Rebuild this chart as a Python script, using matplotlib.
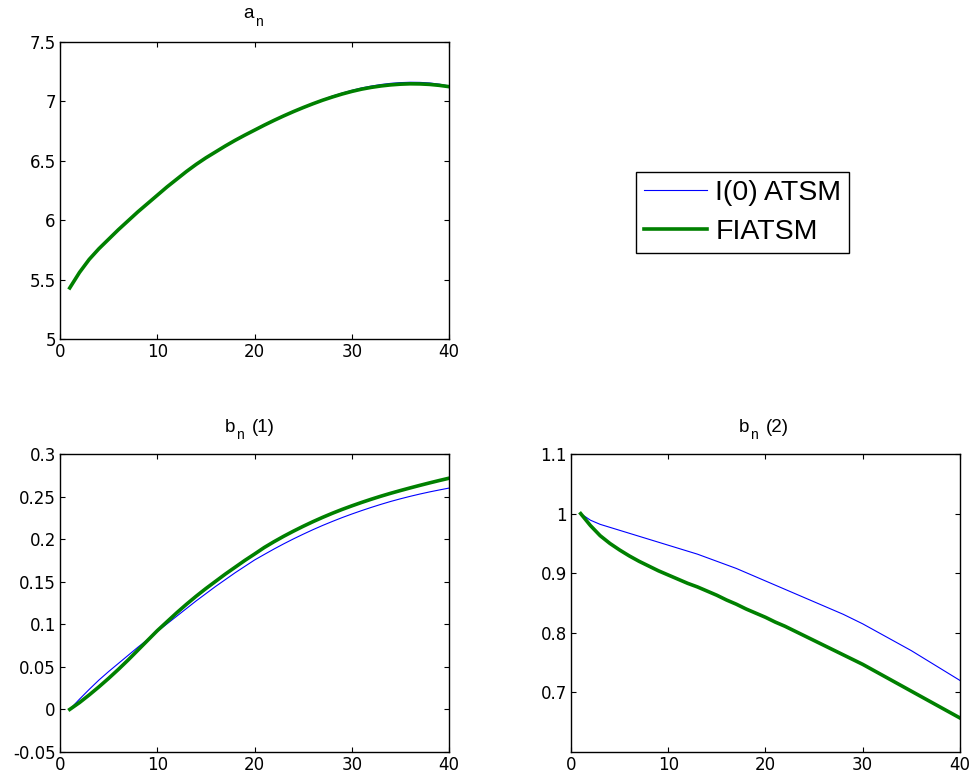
import matplotlib
matplotlib.use("Agg")
import matplotlib.pyplot as plt
from matplotlib.ticker import FuncFormatter

plt.rcParams['font.family'] = ['Liberation Sans', 'DejaVu Sans']

# maturity n
n = list(range(1, 41))

# a_n
a_i0 = [5.43, 5.56, 5.67, 5.76, 5.84, 5.92, 5.995, 6.07, 6.14, 6.21,
        6.28, 6.345, 6.41, 6.47, 6.525, 6.575, 6.625, 6.672, 6.716, 6.758,
        6.80, 6.84, 6.878, 6.914, 6.948, 6.982, 7.015, 7.045, 7.07, 7.093,
        7.113, 7.129, 7.142, 7.152, 7.158, 7.161, 7.16, 7.155, 7.145, 7.13]
a_fi = [5.43, 5.56, 5.67, 5.76, 5.84, 5.92, 5.995, 6.07, 6.14, 6.21,
        6.28, 6.345, 6.41, 6.47, 6.525, 6.575, 6.625, 6.672, 6.716, 6.758,
        6.80, 6.84, 6.878, 6.914, 6.948, 6.98, 7.01, 7.037, 7.062, 7.084,
        7.103, 7.118, 7.13, 7.139, 7.145, 7.148, 7.147, 7.143, 7.135, 7.124]

# b_n (1)
b1_i0 = [0.0, 0.012, 0.0235, 0.0345, 0.0445, 0.054, 0.0635, 0.073, 0.082, 0.0915,
         0.1005, 0.1095, 0.1185, 0.1275, 0.136, 0.1445, 0.1525, 0.1605, 0.168, 0.1755,
         0.182, 0.1884, 0.1945, 0.2003, 0.2058, 0.2111, 0.2161, 0.2208, 0.2253, 0.2295,
         0.2335, 0.2373, 0.2409, 0.2443, 0.2474, 0.2503, 0.253, 0.2555, 0.2578, 0.26]
b1_fi = [0.0, 0.008, 0.017, 0.0265, 0.0365, 0.047, 0.058, 0.0695, 0.081, 0.0925,
         0.103, 0.1135, 0.1235, 0.133, 0.142, 0.1505, 0.159, 0.167, 0.175, 0.1825,
         0.1902, 0.197, 0.2034, 0.2094, 0.2151, 0.2205, 0.2256, 0.2304, 0.2349, 0.2391,
         0.2431, 0.2469, 0.2505, 0.2539, 0.2571, 0.2602, 0.2632, 0.2661, 0.2689, 0.2716]

# b_n (2)
b2_i0 = [1.0, 0.989, 0.982, 0.977, 0.972, 0.967, 0.962, 0.957, 0.952, 0.947,
         0.942, 0.937, 0.932, 0.926, 0.92, 0.914, 0.908, 0.901, 0.894, 0.887,
         0.88, 0.873, 0.866, 0.859, 0.852, 0.845, 0.838, 0.831, 0.823, 0.815,
         0.806, 0.797, 0.788, 0.779, 0.77, 0.76, 0.75, 0.74, 0.73, 0.72]
b2_fi = [1.0, 0.98, 0.963, 0.95, 0.939, 0.929, 0.92, 0.912, 0.904, 0.897,
         0.89, 0.883, 0.877, 0.87, 0.863, 0.855, 0.848, 0.84, 0.833, 0.826,
         0.818, 0.811, 0.803, 0.795, 0.787, 0.779, 0.771, 0.763, 0.755, 0.747,
         0.738, 0.729, 0.72, 0.711, 0.702, 0.693, 0.684, 0.675, 0.666, 0.657]

labels = ['I(0) ATSM', 'FIATSM']
xticks = [0, 10, 20, 30, 40]

W, H = 976, 782
fig = plt.figure(figsize=(W / 100, H / 100), dpi=100)

panels = [
    # position, i0, fi, ylim, yticks
    ([0.0615, 0.5665, 0.3986, 0.3798], a_i0, a_fi,
     (5, 7.5), [5, 5.5, 6, 6.5, 7, 7.5]),
    ([0.0615, 0.0384, 0.3986, 0.3810], b1_i0, b1_fi,
     (-0.05, 0.3), [-0.05, 0, 0.05, 0.1, 0.15, 0.2, 0.25, 0.3]),
    ([0.585, 0.0384, 0.3986, 0.3810], b2_i0, b2_fi,
     (0.6, 1.1), [0.7, 0.8, 0.9, 1.0, 1.1]),
]

fmt = FuncFormatter(lambda v, p: '%g' % round(v, 4))

for pos, yi, yf, ylim, yt in panels:
    ax = fig.add_axes(pos)
    l1, = ax.plot(n, yi, color=(0, 0, 1), lw=0.8)
    l2, = ax.plot(n, yf, color=(0, 0.5, 0), lw=2.6)
    ax.set_xlim(0, 40)
    ax.set_ylim(*ylim)
    ax.set_xticks(xticks)
    ax.set_yticks(yt)
    ax.yaxis.set_major_formatter(fmt)
    ax.xaxis.set_major_formatter(fmt)
    ax.tick_params(direction='in', length=3.5, width=0.8, labelsize=12,
                   top=True, right=True, pad=3)
    for lab in ax.get_xticklabels() + ax.get_yticklabels():
        lab.set_family('DejaVu Sans')
    for s in ax.spines.values():
        s.set_linewidth(1.0)


# titles with MATLAB style subscripts (pixel positions, baseline)
def ptext(x, y, s, size):
    fig.text(x / W, 1 - y / H, s, fontsize=size, ha='left', va='baseline')


ptext(243, 17.5, 'a', 13.5)
ptext(255, 26.5, 'n', 10)
ptext(225, 431.5, 'b', 13.5)
ptext(236, 439, 'n', 10)
ptext(252, 431.5, '(1)', 13.5)
ptext(739, 431.5, 'b', 13.5)
ptext(750, 439, 'n', 10)
ptext(766, 431.5, '(2)', 13.5)

fig.legend([l1, l2], labels, loc='upper left',
           bbox_to_anchor=(636 / W, 1 - 172 / H),
           fontsize=20.5, frameon=True, fancybox=False, edgecolor='black',
           framealpha=1, handlelength=2.2, handletextpad=0.3,
           borderpad=0.28, labelspacing=0.45, borderaxespad=0)

fig.savefig('out.png', dpi=100)
